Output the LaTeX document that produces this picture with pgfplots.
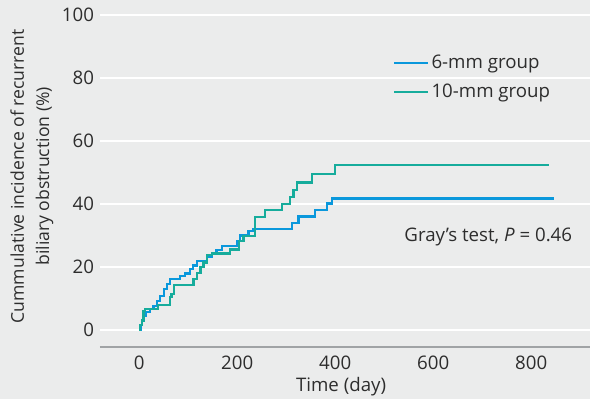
\documentclass[border=0pt]{standalone}
\usepackage{pgfplots}
\pgfplotsset{compat=1.18}
\usepackage{fontspec}
\setmainfont{Open Sans}
\definecolor{bgcol}{RGB}{235,236,236}
\definecolor{blueline}{RGB}{10,152,220}
\definecolor{tealline}{RGB}{22,172,156}
\definecolor{axgray}{RGB}{160,163,165}
\definecolor{txt}{RGB}{45,45,45}
\begin{document}
\begin{tikzpicture}
\path[use as bounding box, fill=bgcol] (-75pt,-39pt) rectangle (367.5pt,260.25pt);
\begin{axis}[
  scale only axis, width=367.5pt, height=256pt,
  xmin=-80, xmax=920, ymin=-5.4, ymax=103,
  axis x line*=bottom,
  axis y line*=left,
  x axis line style={draw=axgray, line width=1.7pt, -},
  y axis line style={draw=none},
  xtick={0,200,400,600,800}, ytick={0,20,40,60,80,100},
  major tick length=0pt,
  ymajorgrids, grid style={white, line width=1.5pt},
  tick label style={font=\fontsize{14}{16}\selectfont, text=txt},
  /pgf/number format/assume math mode=true,
  xticklabel style={yshift=-3pt},
  yticklabel style={xshift=-1pt},
  xlabel={Time (day)},
  xlabel style={font=\fontsize{14}{16}\selectfont, text=txt, at={(axis description cs:0.492,0)}, anchor=north, yshift=-19pt},
  ylabel={Cummulative incidence of recurrent\\biliary obstruction (\%)},
  ylabel style={font=\fontsize{13.2}{19}\selectfont, text=txt, align=center, at={(axis description cs:-0.139,0.5)}, anchor=center},
  legend style={at={(axis description cs:0.598,0.864)}, anchor=north west, draw=none, fill=none, font=\fontsize{14}{16}\selectfont, text=txt, row sep=6pt, inner sep=0pt},
  legend cell align=left,
  legend image code/.code={\draw[#1] (0pt,0pt) -- (25pt,0pt);},
  clip=false,
]
\addplot[const plot, blueline, line width=1.7pt] coordinates {
(0,0) (3,1.5) (6,3) (9,4.5) (13,5.8) (22,6.6) (29,7.7) (36,9.3) (43,10.8) (50,13) (56,14.5) (63,16.3) (84,17.2) (94,17.9) (104,19.3) (110,20.5) (118,21.9) (138,23.3) (148,24.3) (158,25.4) (169,26.6) (199,28.2) (206,30) (223,31.4) (233,32.1) (312,33.9) (325,36) (359,38.1) (383,40.2) (393,41.8) (846,41.8)
};
\addlegendentry{6-mm group}
\addplot[const plot, tealline, line width=1.7pt] coordinates {
(0,0) (2,1.6) (5,3.0) (9,6.1) (12,6.6) (39,7.9) (63,10.5) (66,11.5) (71,14.2) (111,16.1) (118,18) (125,20) (131,21.4) (138,23.7) (148,24.3) (186,25.6) (203,28.2) (213,29.8) (237,35.9) (257,38) (291,40.1) (308,42.3) (315,44.4) (322,46.8) (352,49.5) (400,52.4) (837,52.4)
};
\addlegendentry{10-mm group}
\node[anchor=east, font=\fontsize{14}{16}\selectfont, text=txt, inner sep=0pt] at (axis cs:884,29.5) {Gray’s test, \textit{P} = 0.46};
\end{axis}
\end{tikzpicture}
\end{document}
